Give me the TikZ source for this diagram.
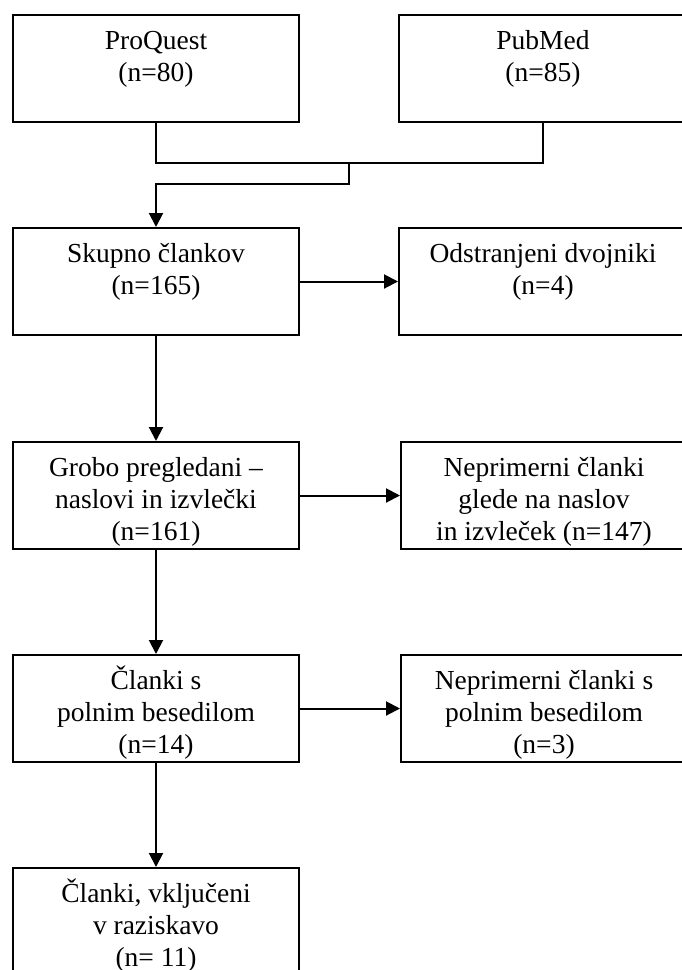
\documentclass[tikz,border=0pt]{standalone}
\usepackage{fontspec}
\setmainfont{Liberation Serif}
\usetikzlibrary{arrows.meta}

\tikzset{
  box/.style={draw, line width=2pt, inner sep=0pt, anchor=north west},
  arr/.style={-{Triangle[length=14pt,width=14pt]}, line width=2pt},
  link/.style={line width=2pt}
}
\newcommand{\boxtxt}[2]{\parbox[c][107pt][t]{#1}{\centering\fontsize{27.5}{32}\selectfont\rule{0pt}{34pt}#2}}

\begin{document}
\begin{tikzpicture}[x=1pt,y=-1pt]
\useasboundingbox (0,0) rectangle (681,970);

%%%%%%%%%%%%%%%%%%%%%%%%%%%%%%%%%%%%%%%%%%%%%%%%%%%%%%%%%%%%%%%%%
\node [box] (proquest) at (12,14) {\boxtxt{286pt}{ProQuest\\(n=80)}};
\node [box] (pubmed) at (398,14) {\boxtxt{288pt}{PubMed\\(n=85)}};

\coordinate (merge) at (349,163);
\draw [link] (proquest.south) |- (merge) -| (pubmed.south);

\node [box] (skupno) at (12,227) {\boxtxt{286pt}{Skupno člankov\\(n=165)}};
\draw [arr] (merge) -- ++(0,21) -| (skupno.north);
\node [box] (dvojniki) at (398,227) {\boxtxt{288pt}{Odstranjeni dvojniki\\(n=4)}};
\draw [arr] (skupno.east) -- (dvojniki.west);


\node [box] (grobo) at (12,441) {\boxtxt{286pt}{Grobo pregledani –\\naslovi in izvlečki\\(n=161)}};
\draw [arr] (skupno.south) -- (grobo.north);
\node [box] (neprim1) at (400,441) {\boxtxt{286pt}{Neprimerni članki\\glede na naslov\\in izvleček (n=147)}};
\draw [arr] (grobo.east) -- (neprim1.west);


\node [box] (polno) at (12,654) {\boxtxt{286pt}{Članki s\\polnim besedilom\\(n=14)}};
\draw [arr] (grobo.south) -- (polno.north);
\node [box] (neprim2) at (400,654) {\boxtxt{286pt}{Neprimerni članki s\\polnim besedilom\\(n=3)}};
\draw [arr] (polno.east) -- (neprim2.west);


\node [box] (vkljuceni) at (12,867) {\boxtxt{286pt}{Članki, vključeni\\v raziskavo\\(n= 11)}};
\draw [arr] (polno.south) -- (vkljuceni.north);

%%%%%%%%%%%%%%%%%%%%%%%%%%%%%%%%%%%%%%%%%%%%%%%%%%%%%%%%%%%%%%%%%

\end{tikzpicture}
\end{document}
